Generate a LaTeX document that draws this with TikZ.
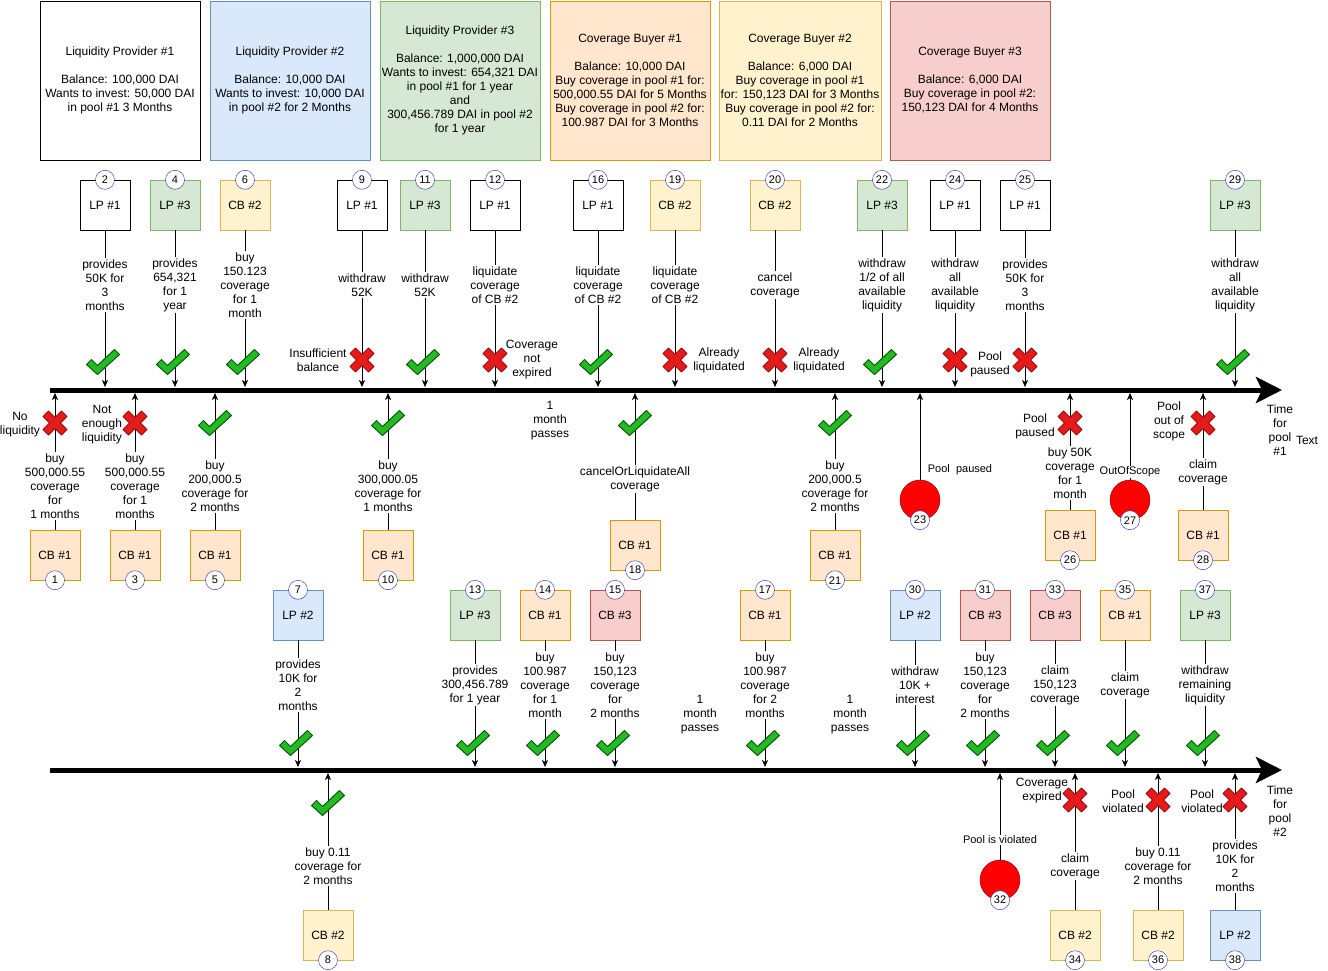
\documentclass[tikz,border=0pt]{standalone}
\usepackage{fontspec}
\setmainfont{Liberation Sans}
\usepackage{tikz}
\usetikzlibrary{arrows.meta}
\definecolor{lpblue}{HTML}{DAE8FC}
\definecolor{lpblueline}{HTML}{6C8EBF}
\definecolor{lpgreen}{HTML}{D5E8D4}
\definecolor{lpgreenline}{HTML}{82B366}
\definecolor{cborange}{HTML}{FFE6CC}
\definecolor{cborangeline}{HTML}{D79B00}
\definecolor{cbyellow}{HTML}{FFF2CC}
\definecolor{cbyellowline}{HTML}{D6B656}
\definecolor{cbred}{HTML}{F8CECC}
\definecolor{cbredline}{HTML}{B85450}
\definecolor{numblue}{HTML}{2222A8}
\definecolor{okgreen}{HTML}{22BB22}
\definecolor{okline}{HTML}{0B560B}
\definecolor{badred}{HTML}{E41B1B}
\definecolor{badline}{HTML}{A00C0C}
\definecolor{sirenred}{HTML}{FF0000}
\definecolor{sirenline}{HTML}{7A0000}
\newcommand{\bodyfs}{\fontsize{12}{14}\selectfont}
\newcommand{\smallfs}{\fontsize{11}{13}\selectfont}
\tikzset{
  panel/.style={draw, minimum width=160pt, minimum height=159pt, inner sep=2pt, align=center, font=\bodyfs},
  actor/.style={draw, minimum width=50pt, minimum height=50pt, inner sep=0pt, font=\bodyfs},
  lpone/.style={actor, fill=white, draw=black},
  lptwo/.style={actor, fill=lpblue, draw=lpblueline},
  lpthree/.style={actor, fill=lpgreen, draw=lpgreenline},
  cbone/.style={actor, fill=cborange, draw=cborangeline},
  cbtwo/.style={actor, fill=cbyellow, draw=cbyellowline},
  cbthree/.style={actor, fill=cbred, draw=cbredline},
  num/.style={circle, draw=numblue, fill=white, minimum size=19pt, inner sep=0pt, font=\smallfs},
  act/.style={fill=white, align=center, inner sep=1.5pt, font=\bodyfs},
  why/.style={align=center, inner sep=0pt, font=\bodyfs},
  tag/.style={fill=white, inner sep=1pt, font=\smallfs},
  siren/.style={circle, fill=sirenred, draw=sirenline, minimum size=40pt, inner sep=0pt},
  flow/.style={-{Stealth[length=7pt,width=6pt,inset=2pt]}, black},
  timeline/.style={line width=5pt, -{Stealth[length=26pt,width=26pt,inset=6pt]}},
  ok/.pic={\draw[fill=okgreen, draw=okline, line width=1pt, line join=round]
    (-16.5,2.5) -- (-11.5,-2.5) -- (-5.5,3.5) -- (11.5,-12.5) -- (16.5,-7.5) -- (-5.5,12.5) -- cycle;},
  fail/.pic={\draw[fill=badred, draw=badline, line width=0.8pt, line join=round]
    (-12,-6.5) -- (-6.5,-12) -- (0,-5.5) -- (6.5,-12) -- (12,-6.5) -- (5.5,0) -- (12,6.5)
    -- (6.5,12) -- (0,5.5) -- (-6.5,12) -- (-12,6.5) -- (-5.5,0) -- cycle;},
}

\begin{document}
\begin{tikzpicture}[x=1pt, y=-1pt]
  \useasboundingbox (0,0) rectangle (1328,971);

  % who is who
  \node[panel, draw=black] (LP1) at (120,80.5) {Liquidity Provider \#1\\[14pt]Balance: 100,000 DAI\\Wants to invest: 50,000 DAI\\in pool \#1 3 Months};
  \node[panel, fill=lpblue, draw=lpblueline] (LP2) at (290,80.5) {Liquidity Provider \#2\\[14pt]Balance: 10,000 DAI\\Wants to invest: 10,000 DAI\\in pool \#2 for 2 Months};
  \node[panel, fill=lpgreen, draw=lpgreenline] (LP3) at (460,80.5) {Liquidity Provider \#3\\[14pt]Balance: 1,000,000 DAI\\Wants to invest: 654,321 DAI\\in pool \#1 for 1 year\\and\\300,456.789 DAI in pool \#2\\for 1 year};
  \node[panel, fill=cborange, draw=cborangeline] (CB1) at (630,80.5) {Coverage Buyer \#1\\[14pt]Balance: 10,000 DAI\\Buy coverage in pool \#1 for:\\500,000.55 DAI for 5 Months\\Buy coverage in pool \#2 for:\\100.987 DAI for 3 Months};
  \node[panel, fill=cbyellow, draw=cbyellowline] (CB2) at (800,80.5) {Coverage Buyer \#2\\[14pt]Balance: 6,000 DAI\\Buy coverage in pool \#1\\for: 150,123 DAI for 3 Months\\Buy coverage in pool \#2 for:\\0.11 DAI for 2 Months};
  \node[panel, fill=cbred, draw=cbredline] (CB3) at (970,80.5) {Coverage Buyer \#3\\[14pt]Balance: 6,000 DAI\\Buy coverage in pool \#2:\\150,123 DAI for 4 Months};

  % the two time axes
  \coordinate (s1) at (50,390);
  \coordinate (e1) at (1282,390);
  \coordinate (s2) at (50,770);
  \coordinate (e2) at (1282,770);
  \draw[timeline] (s1) -- (e1);
  \draw[timeline] (s2) -- (e2);

  % pool #1, from above
  \foreach \n/\x/\kind/\who/\txt in {2/105/lpone/LP \#1/{provides\\50K for\\3\\months},
    4/175/lpthree/LP \#3/{provides\\654,321\\for 1\\year},
    6/245/cbtwo/CB \#2/{buy\\150.123\\coverage\\for 1\\month},
    9/362/lpone/LP \#1/{withdraw\\52K},
    11/425/lpthree/LP \#3/{withdraw\\52K},
    12/495/lpone/LP \#1/{liquidate\\coverage\\of CB \#2},
    16/598/lpone/LP \#1/{liquidate\\coverage\\of CB \#2},
    19/675/cbtwo/CB \#2/{liquidate\\coverage\\of CB \#2},
    20/775/cbtwo/CB \#2/{cancel\\coverage},
    22/882/lpthree/LP \#3/{withdraw\\1/2 of all\\available\\liquidity},
    24/955/lpone/LP \#1/{withdraw\\all\\available\\liquidity},
    25/1025/lpone/LP \#1/{provides\\50K for\\3\\months},
    29/1235/lpthree/LP \#3/{withdraw\\all\\available\\liquidity}}{
    \node[\kind] (b\n) at (\x,205) {\who};
    \node[num] (n\n) at (b\n.north) {\n};
    \coordinate (t\n) at (\x,387);
    \draw[flow] (b\n) -- (t\n);
    \node[act] (l\n) at (\x,285) {\txt};
  }

  % pool #1, from below
  \foreach \n/\x/\by/\ly/\txt in {1/55/555/486/{buy\\500,000.55\\coverage\\for\\1 months},
    3/135/555/486/{buy\\500,000.55\\coverage\\for 1\\months},
    5/215/555/486/{buy\\200,000.5\\coverage for\\2 months},
    10/388/555/486/{buy\\300,000.05\\coverage for\\1 months},
    18/635/545/479/{cancelOrLiquidateAll\\coverage},
    21/835/555/486/{buy\\200,000.5\\coverage for\\2 months},
    26/1070/535/473/{buy 50K\\coverage\\for 1\\month},
    28/1203/535/472/{claim\\coverage}}{
    \node[cbone] (b\n) at (\x,\by) {CB \#1};
    \node[num] (n\n) at (b\n.south) {\n};
    \coordinate (t\n) at (\x,393);
    \draw[flow] (b\n) -- (t\n);
    \node[act] (l\n) at (\x,\ly) {\txt};
  }

  % pool #2, from above
  \foreach \n/\x/\kind/\who/\txt in {7/298/lptwo/LP \#2/{provides\\10K for\\2\\months},
    13/475/lpthree/LP \#3/{provides\\300,456.789\\for 1 year},
    14/545/cbone/CB \#1/{buy\\100.987\\coverage\\for 1\\month},
    15/615/cbthree/CB \#3/{buy\\150,123\\coverage\\for\\2 months},
    17/765/cbone/CB \#1/{buy\\100.987\\coverage\\for 2\\months},
    30/915/lptwo/LP \#2/{withdraw\\10K +\\interest},
    31/985/cbthree/CB \#3/{buy\\150,123\\coverage\\for\\2 months},
    33/1055/cbthree/CB \#3/{claim\\150,123\\coverage},
    35/1125/cbone/CB \#1/{claim\\coverage},
    37/1205/lpthree/LP \#3/{withdraw\\remaining\\liquidity}}{
    \node[\kind] (b\n) at (\x,615) {\who};
    \node[num] (n\n) at (b\n.north) {\n};
    \coordinate (t\n) at (\x,767);
    \draw[flow] (b\n) -- (t\n);
    \node[act] (l\n) at (\x,685) {\txt};
  }

  % pool #2, from below
  \foreach \n/\x/\kind/\who/\txt in {8/328/cbtwo/CB \#2/{buy 0.11\\coverage for\\2 months},
    34/1075/cbtwo/CB \#2/{claim\\coverage},
    36/1158/cbtwo/CB \#2/{buy 0.11\\coverage for\\2 months},
    38/1235/lptwo/LP \#2/{provides\\10K for\\2\\months}}{
    \node[\kind] (b\n) at (\x,935) {\who};
    \node[num] (n\n) at (b\n.south) {\n};
    \coordinate (t\n) at (\x,773);
    \draw[flow] (b\n) -- (t\n);
    \node[act] (l\n) at (\x,866) {\txt};
  }

  % pool events
  \node[siren] (a23) at (920,500) {};
  \node[num] (n23) at (a23.south) {23};
  \coordinate (t23) at (920,393);
  \draw[flow] (a23) -- (t23);
  \node[font=\smallfs] (p23) at (960,470) {Pool~~paused};
  \node[siren] (a27) at (1130,500) {};
  \node[num] (n27) at (a27.south) {27};
  \coordinate (t27) at (1130,393);
  \draw[flow] (a27) -- (t27);
  \node[tag] (p27) at (1130,472) {OutOfScope};
  \node[siren] (a32) at (1000,880) {};
  \node[num] (n32) at (a32.south) {32};
  \coordinate (t32) at (1000,773);
  \draw[flow] (a32) -- (t32);
  \node[tag] (p32) at (1000,840) {Pool is violated};

  % reasons and notes
  \node[why] (w1) at (20,425) {No\\liquidity};
  \node[why] (w3) at (102,425) {Not\\enough\\liquidity};
  \node[why] (w9) at (318,360) {Insufficient\\balance};
  \node[why] (w12) at (532,360) {Coverage\\not\\expired};
  \node[why] (w19) at (719,360) {Already\\liquidated};
  \node[why] (w20) at (819,360) {Already\\liquidated};
  \node[why] (w24) at (990,364) {Pool\\paused};
  \node[why] (w26) at (1035,426) {Pool\\paused};
  \node[why] (w28) at (1169,421) {Pool\\out of\\scope};
  \node[why] (w34) at (1042,791) {Coverage\\expired};
  \node[why] (w36) at (1123,801) {Pool\\violated};
  \node[why] (w38) at (1202,801) {Pool\\violated};
  \node[why] (m1) at (550,421) {1\\month\\passes};
  \node[why] (m2) at (700,715) {1\\month\\passes};
  \node[why] (m3) at (850,715) {1\\month\\passes};
  \node[why] (time1) at (1280,430) {Time\\for\\pool\\\#1};
  \node[why] (time2) at (1280,811) {Time\\for\\pool\\\#2};
  \node[why] (stray) at (1307,440) {Text};

  % outcomes
  \foreach \x in {105,175,245,425,598,882,1235} \pic at (\x-2,362) {ok};
  \foreach \x in {362,495,675,775,955,1025} \pic at (\x,360) {fail};
  \foreach \x in {215,388,635,835} \pic at (\x,423) {ok};
  \foreach \x in {55,135,1070,1203} \pic at (\x,423) {fail};
  \foreach \x in {298,475,545,615,765,915,985,1055,1125,1205} \pic at (\x-2,743) {ok};
  \pic at (328,803) {ok};
  \foreach \x in {1075,1158,1235} \pic at (\x,800) {fail};
\end{tikzpicture}
\end{document}
